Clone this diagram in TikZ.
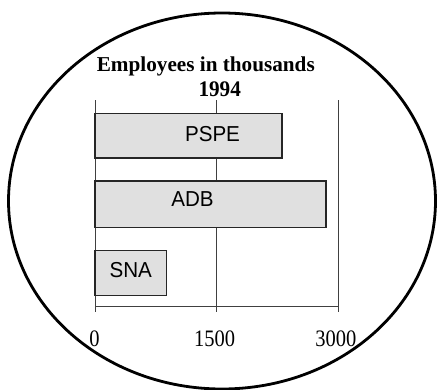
\documentclass[tikz,border=0pt]{standalone}
\usepackage{fontspec}
\setmainfont{Liberation Serif}
\setsansfont{Liberation Sans}
\definecolor{barfill}{gray}{0.88}
\definecolor{gridgray}{gray}{0.25}
\newcommand{\tf}{\fontsize{21.2}{24}\selectfont}
\newcommand{\lf}{\fontsize{20.6}{24}\selectfont}
\newcommand{\nf}{\fontsize{20.5}{24}\selectfont}

\begin{document}
\begin{tikzpicture}[x=1pt,y=-1pt]
   \useasboundingbox (0,0) rectangle (437,389);
   \draw[line width=2.8pt] (222,201) ellipse (213.5 and 188);
   \draw[gridgray,line width=0.8pt] ( 95,100) -- ( 95,312);
   \draw[gridgray,line width=0.8pt] (216.7,100) -- (216.7,312);
   \draw[gridgray,line width=0.8pt] (338,100) -- (338,312);
   \draw[gridgray,line width=0.8pt] ( 95,306) -- (338,306);
   \filldraw[draw=black!85,fill=barfill,line width=1.3pt]
    ( 95,113.3) rectangle (282,158);
   \filldraw[draw=black!85,fill=barfill,line width=1.3pt]
    ( 95,181) rectangle (326,227.7);
   \filldraw[draw=black!85,fill=barfill,line width=1.3pt]
    ( 95,250.7) rectangle (166.5,295.5);
   \draw (205.8, 71) node[anchor=base,yscale=1.0] (title) {\tf\bfseries Employees in thousands};
   \draw (219.7, 96) node[anchor=base,yscale=1.05] (year) {\tf\bfseries 1994};
   \draw (212.5,141.7) node[anchor=base,yscale=1.05] (pspe) {\lf\sffamily PSPE};
   \draw (192.5,206.7) node[anchor=base,yscale=1.05] (adb) {\lf\sffamily ADB};
   \draw (130.8,277.3) node[anchor=base,yscale=1.05] (sna) {\lf\sffamily SNA};
   \draw ( 94.5,346.5) node[anchor=base,yscale=1.15] (t0) {\nf 0};
   \draw (214.7,346.5) node[anchor=base,yscale=1.15] (t1500) {\nf 1500};
   \draw (335.8,346.5) node[anchor=base,yscale=1.15] (t3000) {\nf 3000};
  \end{tikzpicture}
\end{document}
